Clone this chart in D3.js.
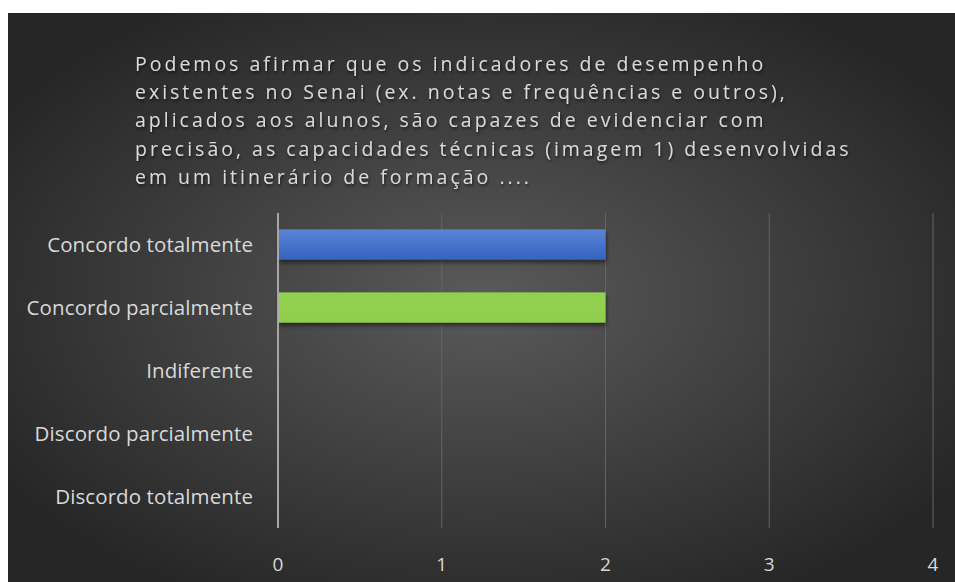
<!DOCTYPE html>
<html>
<head>
<meta charset="utf-8">
<script src="https://cdn.jsdelivr.net/npm/d3@7"></script>
<style>
  body { margin: 0; background: #fff; }
  svg text { font-family: "Open Sans", sans-serif; }
</style>
</head>
<body>
<svg width="955" height="582"></svg>
<script>
var categories = ["Concordo totalmente", "Concordo parcialmente", "Indiferente", "Discordo parcialmente", "Discordo totalmente"];
var values = [2, 2, 0, 0, 0];
var barColors = ["url(#gradBlue)", "url(#gradGreen)", "#999", "#999", "#999"];
var xTicks = [0, 1, 2, 3, 4];
var titleLines = [
  "Podemos afirmar que os indicadores de desempenho",
  "existentes no Senai (ex. notas e frequências e outros),",
  "aplicados aos alunos, são capazes de evidenciar com",
  "precisão, as capacidades técnicas (imagem 1) desenvolvidas",
  "em um itinerário de formação ...."
];

var width = 955, height = 582;
var plotLeft = 278, plotRight = 933, plotTop = 213, plotBottom = 528;

var svg = d3.select("svg");
var defs = svg.append("defs");

var bg = defs.append("radialGradient").attr("id", "bg")
  .attr("cx", "50%").attr("cy", "50%").attr("r", "60%");
bg.append("stop").attr("offset", "0%").attr("stop-color", "#5a5a5a");
bg.append("stop").attr("offset", "100%").attr("stop-color", "#262626");

var gb = defs.append("linearGradient").attr("id", "gradBlue").attr("x1", 0).attr("x2", 0).attr("y1", 0).attr("y2", 1);
gb.append("stop").attr("offset", "0%").attr("stop-color", "#5b84d6");
gb.append("stop").attr("offset", "100%").attr("stop-color", "#3563bf");
var gg = defs.append("linearGradient").attr("id", "gradGreen").attr("x1", 0).attr("x2", 0).attr("y1", 0).attr("y2", 1);
gg.append("stop").attr("offset", "0%").attr("stop-color", "#92d050");
gg.append("stop").attr("offset", "100%").attr("stop-color", "#90cf4e");

var sh = defs.append("filter").attr("id", "shadow").attr("x", "-5%").attr("y", "-20%").attr("width", "110%").attr("height", "160%");
sh.append("feDropShadow").attr("dx", 1).attr("dy", 3).attr("stdDeviation", 2).attr("flood-color", "#000").attr("flood-opacity", 0.5);
var tsh = defs.append("filter").attr("id", "tshadow");
tsh.append("feDropShadow").attr("dx", 1).attr("dy", 2).attr("stdDeviation", 1.5).attr("flood-color", "#000").attr("flood-opacity", 0.6);

svg.append("rect").attr("x", 8).attr("y", 13).attr("width", width - 8).attr("height", height - 13).attr("fill", "url(#bg)");

var x = d3.scaleLinear().domain([0, 4]).range([plotLeft, plotRight]);
var y = d3.scaleBand().domain(categories).range([plotTop, plotBottom]).paddingInner(0.52).paddingOuter(0.26);

// gridlines
svg.append("g").selectAll("line").data(xTicks.slice(1)).join("line")
  .attr("x1", d => x(d)).attr("x2", d => x(d))
  .attr("y1", plotTop).attr("y2", plotBottom)
  .attr("stroke", "#646464").attr("stroke-width", 1);

// bars
svg.append("g").selectAll("rect").data(values).join("rect")
  .attr("x", x(0))
  .attr("y", (d, i) => y(categories[i]))
  .attr("width", d => x(d) - x(0))
  .attr("height", y.bandwidth())
  .attr("fill", (d, i) => barColors[i])
  .attr("filter", "url(#shadow)");

// category axis line
svg.append("line").attr("x1", x(0)).attr("x2", x(0)).attr("y1", plotTop).attr("y2", plotBottom)
  .attr("stroke", "#a6a6a6").attr("stroke-width", 2);

// category labels
svg.append("g").selectAll("text").data(categories).join("text")
  .attr("x", 253)
  .attr("y", d => y(d) + y.bandwidth() / 2)
  .attr("dy", "0.35em")
  .attr("text-anchor", "end")
  .attr("fill", "#d9d9d9")
  .style("font-size", "20.5px")
  .style("letter-spacing", "0.1px")
  .text(d => d);

// value tick labels
svg.append("g").selectAll("text").data(xTicks).join("text")
  .attr("x", d => x(d))
  .attr("y", 564)
  .attr("dy", "0.35em")
  .attr("text-anchor", "middle")
  .attr("fill", "#d9d9d9")
  .style("font-size", "19px")
  .text(d => d);

// title
svg.append("g").attr("filter", "url(#tshadow)").selectAll("text").data(titleLines).join("text")
  .attr("x", 135)
  .attr("y", (d, i) => 64 + i * 28.3)
  .attr("dy", "0.35em")
  .attr("fill", "#d9d9d9")
  .style("font-size", "19.5px")
  .style("letter-spacing", "3px")
  .text(d => d);
</script>
</body>
</html>
